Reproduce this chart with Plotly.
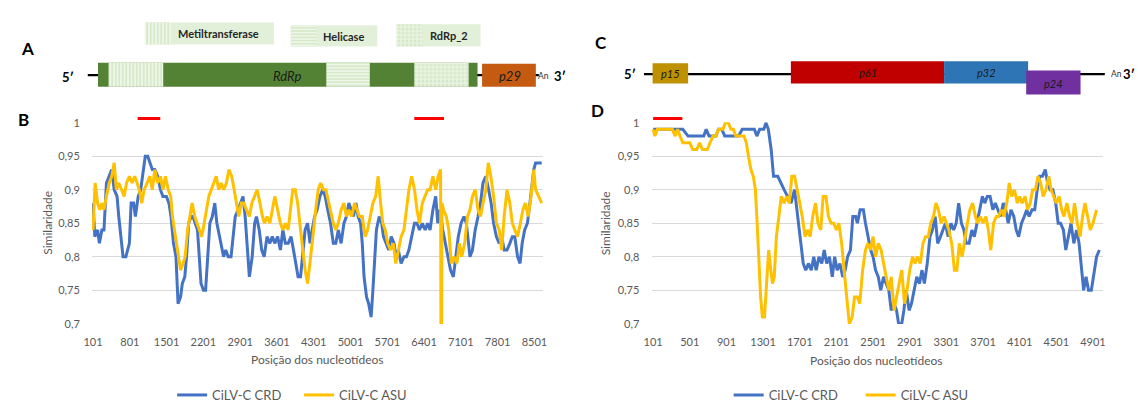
import plotly.graph_objects as go

W, H = 1138, 410
FONT = "Lato"
GRAY = "#595959"
BLUE = "#4472C4"
GOLD = "#FFC000"

# ---------------- data ----------------
TICKS_B = [101, 801, 1501, 2201, 2901, 3601, 4301, 5001, 5701, 6401, 7101, 7801, 8501]
TICKS_D = [101, 501, 901, 1301, 1701, 2101, 2501, 2901, 3301, 3701, 4101, 4501, 4901]
Y_TICKS = [0.7, 0.75, 0.8, 0.85, 0.9, 0.95, 1.0]
Y_TICKTEXT = ["0,7", "0,75", "0,8", "0,85", "0,9", "0,95", "1"]

POS_B_CRD = [101,135,188,222,269,309,356,410,457,504, 558,591,645,672,726,759,793,826,873,907,
             961,1008,1048,1095,1142,1182,1229,1276,1330,1384, 1431,1498,1545,1585,1632,1679,1719,1767,1800,1847,
             1881,1921,1968,2002,2049,2089,2123,2156,2203,2243, 2284,2324,2371,2418,2458,2505,2539,2586,2626,2673,
             2727,2774,2807,2861,2908,2955,2996,3043,3076,3130, 3177,3211,3264,3311,3358,3412,3466,3513,3560,3614,
             3667,3714,3761,3815,3869,3916,3963,4003,4050,4083, 4137,4184,4231,4271,4318,4365,4419,4473,4520,4567,
             4621,4674,4721,4768,4822,4876,4923,4970,5010,5057, 5104,5145,5192,5225,5259,5306,5346,5393,5427,5460,
             5494,5547,5594,5628,5682,5729,5776,5830,5863,5910, 5964,6018,6065,6112,6165,6219,6266,6313,6367,6421,
             6468,6515,6569,6622,6662,6703,6757,6804,6851,6904, 6958,7005,7052,7106,7160,7206,7240,7274,7321,7374,
             7428,7475,7522,7576,7630,7677,7724,7777,7831,7878, 7925,7979,8033,8080,8127,8180,8227,8268,8315,8368,
             8415,8449,8489,8523,8640]
SIM_B_CRD = [0.88,0.83,0.84,0.82,0.84,0.84,0.91,0.92,0.93,0.90, 0.89,0.86,0.82,0.80,0.80,0.81,0.82,0.88,0.88,0.86,
             0.89,0.90,0.92,0.95,0.95,0.94,0.93,0.93,0.92,0.90, 0.89,0.89,0.88,0.86,0.82,0.80,0.73,0.74,0.76,0.77,
             0.80,0.85,0.86,0.86,0.85,0.84,0.80,0.76,0.75,0.75, 0.80,0.85,0.86,0.88,0.85,0.83,0.82,0.80,0.81,0.80,
             0.80,0.83,0.86,0.87,0.88,0.89,0.86,0.80,0.77,0.80, 0.85,0.86,0.84,0.81,0.80,0.83,0.82,0.83,0.82,0.83,
             0.81,0.84,0.82,0.82,0.83,0.81,0.79,0.77,0.77,0.80, 0.84,0.85,0.82,0.84,0.86,0.87,0.89,0.90,0.89,0.87,
             0.85,0.82,0.82,0.84,0.82,0.85,0.86,0.88,0.87,0.86, 0.88,0.86,0.85,0.82,0.77,0.74,0.73,0.71,0.75,0.80,
             0.84,0.86,0.85,0.83,0.82,0.81,0.83,0.82,0.80,0.81, 0.79,0.80,0.80,0.81,0.83,0.85,0.85,0.84,0.85,0.84,
             0.85,0.84,0.87,0.89,0.85,0.87,0.84,0.82,0.80,0.78, 0.77,0.80,0.83,0.85,0.86,0.85,0.82,0.80,0.81,0.84,
             0.86,0.88,0.91,0.92,0.90,0.88,0.85,0.83,0.82,0.83, 0.81,0.81,0.82,0.83,0.83,0.80,0.79,0.82,0.84,0.85,
             0.88,0.90,0.93,0.94,0.94]

POS_B_ASU = [101,141,188,229,269,309,356,410,457,504, 544,591,645,692,739,793,846,893,940,981,
             1028,1075,1129,1182,1229,1276,1330,1384,1431,1478, 1532,1579,1612,1652,1699,1733,1767,1814,1854,1901,
             1948,1988,2035,2082,2123,2170,2217,2257,2304,2351, 2405,2445,2492,2539,2586,2640,2687,2740,2787,2827,
             2875,2922,2969,3022,3076,3123,3177,3224,3278,3325, 3365,3412,3466,3513,3560,3614,3667,3714,3761,3815,
             3862,3902,3949,3996,4036,4083,4137,4184,4231,4285, 4338,4386,4433,4486,4533,4587,4634,4674,4721,4768,
             4822,4876,4923,4970,5024,5077,5124,5171,5225,5279, 5326,5373,5427,5480,5527,5574,5615,5662,5709,5762,
             5816,5863,5910,5964,6018,6065,6112,6165,6219,6266, 6313,6367,6421,6468,6515,6569,6622,6669,6715,6728,6741,
             6770,6824,6871,6918,6972,7025,7072,7119,7173,7227, 7274,7321,7374,7428,7475,7522,7576,7623,7670,7724,
             7777,7831,7878,7925,7979,8033,8080,8127,8180,8234, 8281,8328,8382,8436,8489,8523,8640]
SIM_B_ASU = [0.84,0.91,0.88,0.87,0.88,0.87,0.89,0.91,0.92,0.94, 0.90,0.91,0.90,0.89,0.91,0.92,0.91,0.92,0.91,0.90,
             0.88,0.90,0.91,0.92,0.90,0.93,0.91,0.92,0.90,0.92, 0.90,0.89,0.86,0.84,0.82,0.80,0.78,0.79,0.80,0.84,
             0.86,0.88,0.86,0.85,0.84,0.83,0.85,0.87,0.89,0.90, 0.91,0.92,0.90,0.91,0.90,0.91,0.93,0.92,0.90,0.88,
             0.86,0.88,0.88,0.87,0.86,0.88,0.89,0.90,0.88,0.86, 0.85,0.86,0.85,0.87,0.89,0.87,0.85,0.84,0.85,0.84,
             0.87,0.90,0.90,0.88,0.85,0.82,0.78,0.76,0.79,0.83, 0.87,0.90,0.91,0.90,0.90,0.88,0.86,0.85,0.84,0.85,
             0.87,0.88,0.86,0.87,0.86,0.88,0.87,0.86,0.86,0.83, 0.84,0.86,0.88,0.89,0.92,0.88,0.85,0.84,0.82,0.81,
             0.82,0.79,0.81,0.83,0.84,0.87,0.90,0.92,0.90,0.87, 0.85,0.88,0.89,0.90,0.90,0.92,0.90,0.92,0.93,0.50,0.88,
             0.87,0.86,0.84,0.79,0.80,0.79,0.82,0.80,0.82,0.86, 0.87,0.89,0.90,0.87,0.86,0.88,0.90,0.94,0.92,0.89,
             0.85,0.84,0.81,0.86,0.90,0.88,0.85,0.84,0.83,0.85, 0.87,0.88,0.86,0.89,0.93,0.90,0.88]

POS_D_CRD = [101,425,482,653,680,711,787,813,851,882, 1034,1073,1206,1233,1263,1309,1332,1358,1389,1415,
             1461,1492,1530,1568,1606,1644,1682,1713,1739,1766, 1796,1827,1854,1880,1911,1941,1968,1995,2025,2056,
             2082,2109,2139,2170,2197,2223,2254,2280,2311,2330, 2360,2395,2418,2444,2475,2501,2528,2558,2585,2616,
             2642,2673,2699,2730,2757,2780,2814,2837,2863,2894, 2920,2947,2978,3008,3035,3061,3092,3122,3149,3179,
             3206,3237,3263,3290,3320,3351,3381,3408,3435,3465, 3492,3518,3549,3579,3606,3633,3663,3694,3720,3747,
             3778,3808,3835,3861,3892,3922,3949,3976,4006,4037, 4063,4090,4121,4151,4178,4204,4235,4265,4292,4319,
             4349,4380,4406,4433,4463,4494,4521,4547,4578,4604, 4635,4661,4692,4722,4749,4776,4799,4825,4852,4883,
             4913,4940,4970]
SIM_D_CRD = [0.99,0.99,0.98,0.98,0.99,0.98,0.98,0.99,0.99,0.98, 0.98,0.99,0.99,0.98,0.99,0.99,1.00,0.99,0.96,0.92,
             0.92,0.91,0.90,0.89,0.88,0.90,0.86,0.82,0.79,0.78, 0.79,0.78,0.80,0.78,0.80,0.79,0.81,0.79,0.80,0.77,
             0.80,0.78,0.79,0.77,0.78,0.80,0.81,0.86,0.86,0.85, 0.87,0.87,0.85,0.83,0.81,0.80,0.78,0.77,0.75,0.77,
             0.76,0.75,0.72,0.73,0.72,0.70,0.70,0.72,0.75,0.72, 0.73,0.75,0.77,0.76,0.78,0.76,0.79,0.83,0.84,0.86,
             0.82,0.83,0.84,0.85,0.83,0.85,0.84,0.85,0.88,0.85, 0.84,0.82,0.82,0.84,0.83,0.85,0.87,0.89,0.88,0.89,
             0.89,0.87,0.88,0.87,0.86,0.88,0.87,0.85,0.87,0.86, 0.84,0.83,0.85,0.86,0.87,0.86,0.87,0.87,0.90,0.92,
             0.92,0.93,0.91,0.90,0.90,0.88,0.85,0.85,0.84,0.81, 0.83,0.85,0.82,0.84,0.82,0.78,0.75,0.77,0.75,0.75,
             0.78,0.80,0.81]

POS_D_ASU = [101,120,147,311,341,368,394,425,501,532, 577,608,638,692,722,753,787,813,863,890,
             920,951,977,1004,1092,1118,1141,1168,1194,1217, 1236,1255,1274,1293,1316,1339,1362,1385,1404,1423,
             1446,1473,1499,1530,1560,1587,1614,1644,1675,1701, 1728,1758,1785,1815,1842,1873,1899,1930,1956,1987,
             2014,2044,2071,2101,2128,2158,2185,2216,2242,2273, 2299,2330,2356,2387,2418,2444,2475,2501,2528,2558,
             2589,2616,2642,2673,2699,2730,2757,2787,2814,2844, 2871,2901,2932,2959,2985,3016,3046,3073,3103,3130,
             3160,3187,3214,3244,3275,3301,3328,3359,3389,3416, 3442,3473,3503,3530,3557,3587,3618,3644,3671,3701,
             3732,3759,3785,3816,3846,3873,3899,3930,3960,3987, 4014,4044,4075,4101,4128,4159,4189,4216,4242,4273,
             4300,4330,4357,4387,4418,4444,4471,4501,4532,4559, 4585,4616,4646,4673,4699,4730,4760,4787,4814,4844,
             4871,4901,4940]
SIM_D_ASU = [0.99,0.98,0.99,0.99,0.98,0.99,0.98,0.97,0.97,0.96, 0.96,0.97,0.96,0.96,0.97,0.98,0.98,0.99,0.99,1.00,
             1.00,0.99,0.99,0.98,0.98,0.97,0.95,0.93,0.92,0.90, 0.85,0.79,0.74,0.71,0.71,0.76,0.81,0.78,0.76,0.77,
             0.83,0.86,0.89,0.88,0.89,0.88,0.92,0.92,0.90,0.88, 0.86,0.83,0.84,0.83,0.86,0.88,0.85,0.84,0.89,0.89,
             0.86,0.85,0.85,0.84,0.85,0.82,0.78,0.73,0.70,0.71, 0.74,0.74,0.73,0.78,0.81,0.82,0.81,0.83,0.80,0.82,
             0.81,0.79,0.77,0.75,0.77,0.72,0.74,0.76,0.78,0.73, 0.75,0.78,0.80,0.79,0.80,0.79,0.82,0.83,0.83,0.85,
             0.86,0.88,0.87,0.85,0.86,0.85,0.84,0.82,0.78,0.78, 0.82,0.80,0.83,0.85,0.87,0.88,0.86,0.85,0.86,0.85,
             0.86,0.84,0.81,0.85,0.86,0.86,0.87,0.86,0.88,0.91, 0.89,0.90,0.88,0.89,0.88,0.89,0.87,0.88,0.90,0.90,
             0.92,0.91,0.89,0.90,0.92,0.90,0.89,0.88,0.89,0.87, 0.86,0.88,0.86,0.85,0.88,0.85,0.83,0.86,0.88,0.86,
             0.84,0.85,0.87]

# highlighted regions (red bars), nt
RED_B_START = [950, 6215]
RED_B_END = [1380, 6780]
RED_D_START = [101]
RED_D_END = [420]

# genome maps, nt
RNA1_BACKBONE = [1, 8585]
RNA1_ORF1 = [195, 7418]
RNA1_DOMAINS = ["Metiltransferase", "Helicase", "RdRp_2"]
RNA1_DOM_START = [396, 4540, 6214]
RNA1_DOM_END = [1437, 5368, 7249]
RNA1_P29 = [7505, 8528]
RNA2_BACKBONE = [1, 5030]
RNA2_GENES = ["p15", "p61", "p32", "p24"]
RNA2_START = [95, 1604, 3276, 4172]
RNA2_END = [483, 3276, 4193, 4765]

# ---------------- geometry / styles ----------------
B_L, B_R = 84, 540
D_L, D_R = 650, 1107
P_TOP, P_BOT = 120, 330
B_RANGE = [82.2, 8661]
D_RANGE = [84, 5014]
Y_RANGE = [0.6995, 1.0005]

GREEN = "#548235"
LIGHT = "#E2F0D9"
PAT_V = dict(shape="|", fgcolor="#A9D18E", bgcolor="#EEF6E8", size=3.5, solidity=0.35)
PAT_H = dict(shape="-", fgcolor="#A9D18E", bgcolor="#EEF6E8", size=3.2, solidity=0.35)
PAT_D = dict(shape=".", fgcolor="#C5E0B4", bgcolor="#E8F3E0", size=4, solidity=0.45)
DOM_PATTERNS = [PAT_V, PAT_H, PAT_D]
GENE_COLORS = ["#BF9000", "#C00000", "#2E75B6", "#7030A0"]


def px_x(p):
    return p / W


def px_y(p):
    return 1 - p / H


def ext_range(rng, left, right):
    s = (rng[1] - rng[0]) / (right - left)
    return [rng[0] - left * s, rng[0] + (W - left) * s]


fig = go.Figure()

# similarity lines
fig.add_trace(go.Scatter(x=POS_B_CRD, y=SIM_B_CRD, mode="lines", name="CiLV-C CRD",
                         line=dict(color=BLUE, width=3), xaxis="x", yaxis="y", legend="legend"))
fig.add_trace(go.Scatter(x=POS_B_ASU, y=SIM_B_ASU, mode="lines", name="CiLV-C ASU",
                         line=dict(color=GOLD, width=3), xaxis="x", yaxis="y", legend="legend"))
fig.add_trace(go.Scatter(x=POS_D_CRD, y=SIM_D_CRD, mode="lines", name="CiLV-C CRD",
                         line=dict(color=BLUE, width=3), xaxis="x2", yaxis="y2", legend="legend2"))
fig.add_trace(go.Scatter(x=POS_D_ASU, y=SIM_D_ASU, mode="lines", name="CiLV-C ASU",
                         line=dict(color=GOLD, width=3), xaxis="x2", yaxis="y2", legend="legend2"))


def hbar(xa, ya, start, end, yc, h, color, pattern=None):
    m = dict(color=color, line=dict(width=0))
    if pattern:
        m["pattern"] = pattern
    fig.add_trace(go.Bar(orientation="h", base=[start], x=[end - start], y=[yc], width=[h],
                         marker=m, xaxis=xa, yaxis=ya, showlegend=False, hoverinfo="skip"))


# map A (RNA1): backbone first so the boxes cover it
hbar("x3", "y3", RNA1_BACKBONE[0], RNA1_BACKBONE[1], 71, 2, "black")
hbar("x3", "y3", RNA1_ORF1[0], RNA1_ORF1[1], 70.5, 25, GREEN)
for s, e, p in zip(RNA1_DOM_START, RNA1_DOM_END, DOM_PATTERNS):
    hbar("x3", "y3", s, e, 70.5, 25, "#EEF6E8", p)
hbar("x3", "y3", RNA1_P29[0], RNA1_P29[1], 71, 24, "#C55A11")

# map C (RNA2)
hbar("x4", "y4", RNA2_BACKBONE[0], RNA2_BACKBONE[1], 70, 2, "black")
gene_y = [69, 68, 68, 78.5]
gene_h = [21, 23, 23, 25]
for s, e, c, yc, h in zip(RNA2_START, RNA2_END, GENE_COLORS, gene_y, gene_h):
    hbar("x4", "y4", s, e, yc, h, c)

# domain key boxes (pixel axis)
KEY_BOX = [(137.5, 268, 27.5, 23), (285, 372.5, 30, 22), (392, 477, 29.5, 23)]
KEY_PAT_W = 26.5
for (x0, x1, yc, h), p in zip(KEY_BOX, DOM_PATTERNS):
    hbar("x5", "y5", x0, x1, yc, h, LIGHT)
    hbar("x5", "y5", x0, x0 + KEY_PAT_W, yc, h, "#EEF6E8", p)

# red bars
shapes = []
for s, e in zip(RED_B_START, RED_B_END):
    shapes.append(dict(type="line", xref="x", yref="paper", x0=s, x1=e, y0=px_y(116), y1=px_y(116),
                       line=dict(color="#FF0000", width=3)))
for s, e in zip(RED_D_START, RED_D_END):
    shapes.append(dict(type="line", xref="x2", yref="paper", x0=s, x1=e, y0=px_y(116), y1=px_y(116),
                       line=dict(color="#FF0000", width=3)))

annotations = []


def ann(text, x, y, size, color="#262626", angle=0, xanchor="center"):
    annotations.append(dict(text=text, x=px_x(x), y=px_y(y), xref="paper", yref="paper",
                            showarrow=False, xanchor=xanchor, yanchor="middle", textangle=angle,
                            font=dict(family=FONT, size=size, color=color)))


ann("<b>A</b>", 19, 43, 17, "black")
ann("<b>B</b>", 15, 117, 17, "black")
ann("<b>C</b>", 599, 37, 17, "black")
ann("<b>D</b>", 595, 108, 17, "black")

ann("<b>Metiltransferase</b>", 212, 28, 11)
ann("<b>Helicase</b>", 338, 30.5, 11)
ann("<b>RdRp_2</b>", 445, 30, 11)

ann("<b>5′</b>", 60, 73, 13, "black")
ann("<i>RdRp</i>", 282, 72, 13, "#1a1a1a")
ann("<i>p29</i>", 507, 72, 13, "#1a1a1a")
ann("An", 541, 72, 8.5, "#333333")
ann("<b>3′</b>", 557, 72, 13, "black")

ann("<b>5′</b>", 628, 70, 13, "black")
for g, x, y in zip(RNA2_GENES, [669, 869, 989, 1057], [69, 68, 68, 80]):
    ann("<i>" + g + "</i>", x, y, 11, "#1a1a1a")
ann("An", 1120, 70, 8.5, "#333333")
ann("<b>3′</b>", 1133, 70, 13, "black")

ann("Similaridade", 39, 225, 12, GRAY, angle=-90)
ann("Similaridade", 603, 225, 12, GRAY, angle=-90)
ann("Posição dos nucleotídeos", 312, 367, 12, GRAY)
ann("Posição dos nucleotídeos", 878, 368, 12, GRAY)

xcommon = dict(showgrid=False, zeroline=False, showline=False, ticks="outside", ticklen=8,
               tickcolor="rgba(0,0,0,0)", tickfont=dict(family=FONT, size=11, color=GRAY),
               fixedrange=True)
ycommon = dict(range=Y_RANGE, tickvals=Y_TICKS, ticktext=Y_TICKTEXT, showgrid=True,
               gridcolor="#D9D9D9", gridwidth=1, zeroline=False, showline=False, ticks="outside",
               ticklen=9, tickcolor="rgba(0,0,0,0)", tickfont=dict(family=FONT, size=11, color=GRAY),
               domain=[px_y(P_BOT), px_y(P_TOP)], fixedrange=True)
hidden = dict(visible=False, fixedrange=True, domain=[0, 1])

fig.update_layout(
    width=W, height=H, autosize=False, margin=dict(l=0, r=0, t=0, b=0),
    paper_bgcolor="white", plot_bgcolor="rgba(0,0,0,0)",
    font=dict(family=FONT, color=GRAY, size=11),
    barmode="overlay", hovermode=False,
    xaxis=dict(domain=[px_x(B_L), px_x(B_R)], range=B_RANGE, tickvals=TICKS_B,
               ticktext=[str(t) for t in TICKS_B], anchor="y", **xcommon),
    yaxis=dict(anchor="x", **ycommon),
    xaxis2=dict(domain=[px_x(D_L), px_x(D_R)], range=D_RANGE, tickvals=TICKS_D,
                ticktext=[str(t) for t in TICKS_D], anchor="y2", **xcommon),
    yaxis2=dict(anchor="x2", **ycommon),
    xaxis3=dict(range=ext_range(B_RANGE, B_L, B_R), anchor="y3", **hidden),
    yaxis3=dict(range=[H, 0], anchor="x3", **hidden),
    xaxis4=dict(range=ext_range(D_RANGE, D_L, D_R), anchor="y4", **hidden),
    yaxis4=dict(range=[H, 0], anchor="x4", **hidden),
    xaxis5=dict(range=[0, W], anchor="y5", **hidden),
    yaxis5=dict(range=[H, 0], anchor="x5", **hidden),
    legend=dict(orientation="h", x=px_x(165), xanchor="left", y=px_y(404), yanchor="middle",
                entrywidth=82, entrywidthmode="pixels", bgcolor="rgba(0,0,0,0)",
                font=dict(family=FONT, size=13, color=GRAY), traceorder="normal"),
    legend2=dict(orientation="h", x=px_x(728), xanchor="left", y=px_y(404), yanchor="middle",
                 entrywidth=87, entrywidthmode="pixels", bgcolor="rgba(0,0,0,0)",
                 font=dict(family=FONT, size=13, color=GRAY), traceorder="normal"),
    shapes=shapes, annotations=annotations,
)

fig.write_html("out.html")
